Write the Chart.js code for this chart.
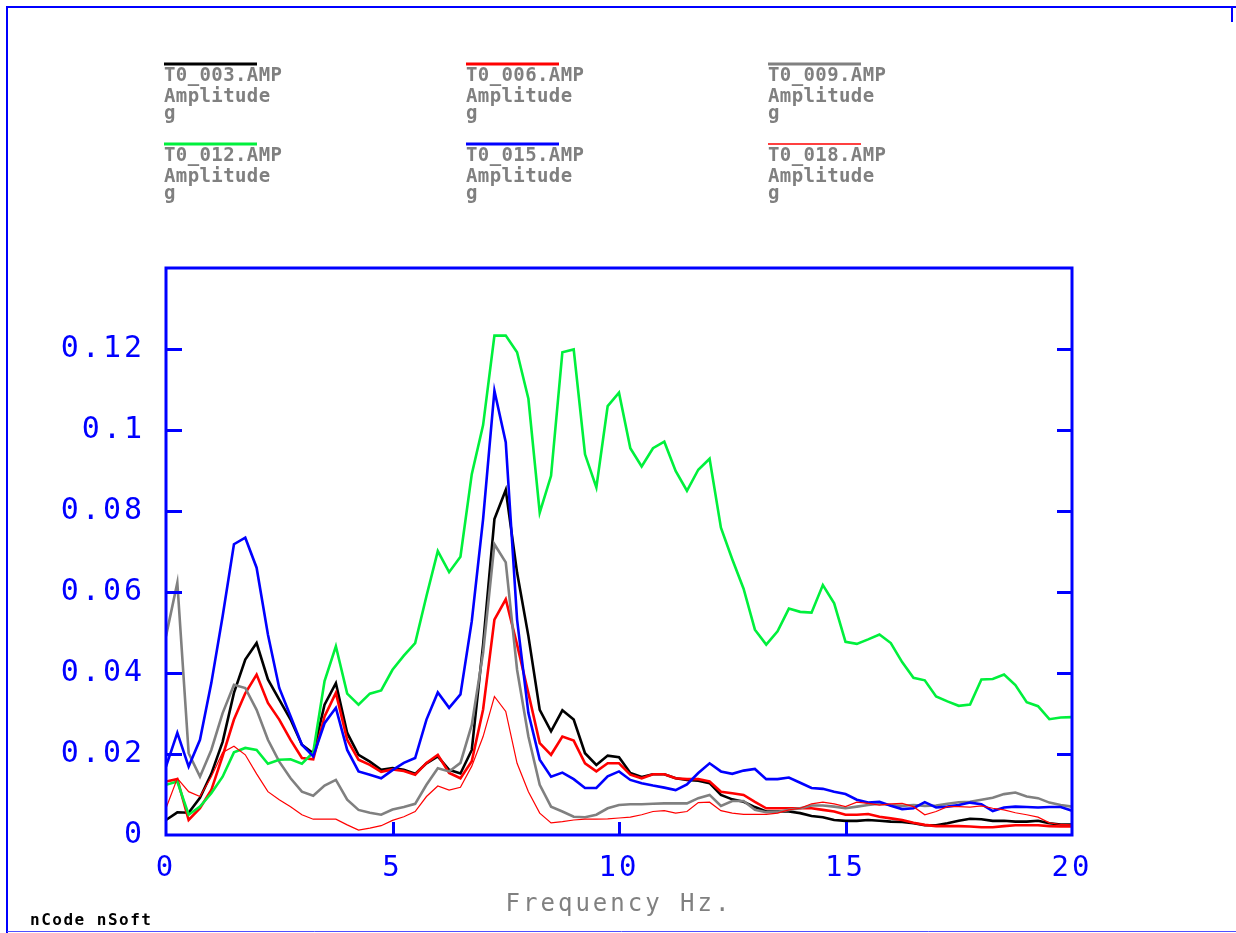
<!DOCTYPE html>
<html>
<head>
<meta charset="utf-8">
<script src="https://cdn.jsdelivr.net/npm/chart.js@4/dist/chart.umd.min.js"></script>
<style>
  html, body { margin: 0; padding: 0; background: #ffffff; }
  #wrap { width: 1236px; height: 933px; position: relative; }
  canvas { display: block; }
</style>
</head>
<body>
<div id="wrap"><canvas id="amp" width="1236" height="933"></canvas></div>
<script>
// Frequency axis (Hz), 0.25 Hz resolution
const freq = [
  0, 0.25, 0.5, 0.75, 1, 1.25, 1.5, 1.75, 2, 2.25, 2.5, 2.75, 3, 3.25, 3.5, 3.75,
  4, 4.25, 4.5, 4.75, 5, 5.25, 5.5, 5.75, 6, 6.25, 6.5, 6.75, 7, 7.25, 7.5, 7.75,
  8, 8.25, 8.5, 8.75, 9, 9.25, 9.5, 9.75, 10, 10.25, 10.5, 10.75, 11, 11.25, 11.5, 11.75,
  12, 12.25, 12.5, 12.75, 13, 13.25, 13.5, 13.75, 14, 14.25, 14.5, 14.75, 15, 15.25, 15.5, 15.75,
  16, 16.25, 16.5, 16.75, 17, 17.25, 17.5, 17.75, 18, 18.25, 18.5, 18.75, 19, 19.25, 19.5, 19.75, 20
];

// Amplitude spectra (g)
const amp003 = [
  0.0037, 0.0056, 0.0055, 0.0092, 0.0151, 0.0230, 0.0351, 0.0433, 0.0474, 0.0384, 0.0334, 0.0285, 0.0223, 0.0202, 0.0322, 0.0375,
  0.0252, 0.0198, 0.0181, 0.0161, 0.0165, 0.0161, 0.0151, 0.0177, 0.0194, 0.0161, 0.0152, 0.0210, 0.0470, 0.0780, 0.0852, 0.0648,
  0.0491, 0.0309, 0.0256, 0.0308, 0.0285, 0.0202, 0.0173, 0.0196, 0.0192, 0.0153, 0.0143, 0.0150, 0.0150, 0.0140, 0.0136, 0.0134,
  0.0128, 0.0099, 0.0088, 0.0082, 0.0069, 0.0058, 0.0058, 0.0058, 0.0054, 0.0047, 0.0044, 0.0037, 0.0035, 0.0035, 0.0037, 0.0035,
  0.0033, 0.0032, 0.0029, 0.0024, 0.0024, 0.0029, 0.0035, 0.0040, 0.0039, 0.0035, 0.0035, 0.0033, 0.0033, 0.0035, 0.0029, 0.0026, 0.0026
];
const amp006 = [
  0.0132, 0.0138, 0.0037, 0.0066, 0.0111, 0.0195, 0.0285, 0.0350, 0.0396, 0.0326, 0.0285, 0.0235, 0.0190, 0.0187, 0.0293, 0.0351,
  0.0235, 0.0186, 0.0173, 0.0156, 0.0162, 0.0158, 0.0149, 0.0178, 0.0198, 0.0153, 0.0140, 0.0182, 0.0310, 0.0532, 0.0582, 0.0470,
  0.0350, 0.0227, 0.0198, 0.0243, 0.0233, 0.0177, 0.0157, 0.0177, 0.0177, 0.0149, 0.0140, 0.0150, 0.0150, 0.0140, 0.0138, 0.0138,
  0.0132, 0.0107, 0.0103, 0.0099, 0.0082, 0.0066, 0.0066, 0.0066, 0.0066, 0.0066, 0.0062, 0.0058, 0.0050, 0.0050, 0.0052, 0.0045,
  0.0041, 0.0037, 0.0030, 0.0025, 0.0022, 0.0022, 0.0022, 0.0021, 0.0019, 0.0019, 0.0022, 0.0024, 0.0024, 0.0024, 0.0022, 0.0021, 0.0021
];
const amp009 = [
  0.0491, 0.0623, 0.0202, 0.0144, 0.0210, 0.0301, 0.0371, 0.0363, 0.0309, 0.0235, 0.0181, 0.0140, 0.0107, 0.0097, 0.0122, 0.0136,
  0.0087, 0.0062, 0.0055, 0.0050, 0.0063, 0.0069, 0.0077, 0.0124, 0.0165, 0.0157, 0.0178, 0.0272, 0.0450, 0.0718, 0.0673, 0.0408,
  0.0243, 0.0124, 0.0070, 0.0058, 0.0045, 0.0044, 0.0050, 0.0066, 0.0074, 0.0076, 0.0076, 0.0077, 0.0078, 0.0078, 0.0078, 0.0091,
  0.0099, 0.0072, 0.0084, 0.0084, 0.0062, 0.0056, 0.0057, 0.0062, 0.0066, 0.0073, 0.0073, 0.0070, 0.0066, 0.0070, 0.0074, 0.0077,
  0.0074, 0.0072, 0.0074, 0.0072, 0.0073, 0.0077, 0.0081, 0.0082, 0.0087, 0.0092, 0.0101, 0.0105, 0.0095, 0.0091, 0.0080, 0.0074, 0.0070
];
const amp012 = [
  0.0124, 0.0132, 0.0050, 0.0070, 0.0103, 0.0144, 0.0204, 0.0215, 0.0210, 0.0176, 0.0186, 0.0187, 0.0176, 0.0204, 0.0380, 0.0466,
  0.0349, 0.0322, 0.0349, 0.0357, 0.0408, 0.0443, 0.0474, 0.0590, 0.0701, 0.0649, 0.0687, 0.0891, 0.1012, 0.1233, 0.1233, 0.1192,
  0.1077, 0.0796, 0.0887, 0.1192, 0.1199, 0.0940, 0.0858, 0.1059, 0.1092, 0.0955, 0.0910, 0.0955, 0.0971, 0.0899, 0.0850, 0.0902,
  0.0929, 0.0759, 0.0681, 0.0608, 0.0507, 0.0470, 0.0503, 0.0559, 0.0551, 0.0549, 0.0617, 0.0572, 0.0477, 0.0472, 0.0483, 0.0495,
  0.0474, 0.0427, 0.0388, 0.0382, 0.0342, 0.0330, 0.0319, 0.0322, 0.0384, 0.0385, 0.0396, 0.0370, 0.0328, 0.0318, 0.0286, 0.0290, 0.0291
];
const amp015 = [
  0.0169, 0.0252, 0.0169, 0.0235, 0.0375, 0.0540, 0.0718, 0.0734, 0.0660, 0.0495, 0.0363, 0.0293, 0.0223, 0.0194, 0.0276, 0.0314,
  0.0210, 0.0157, 0.0149, 0.0140, 0.0160, 0.0178, 0.0190, 0.0285, 0.0352, 0.0314, 0.0347, 0.0528, 0.0780, 0.1097, 0.0970, 0.0532,
  0.0301, 0.0186, 0.0144, 0.0154, 0.0138, 0.0116, 0.0116, 0.0145, 0.0157, 0.0136, 0.0128, 0.0122, 0.0117, 0.0111, 0.0125, 0.0153,
  0.0177, 0.0157, 0.0151, 0.0159, 0.0163, 0.0138, 0.0138, 0.0142, 0.0129, 0.0116, 0.0114, 0.0107, 0.0101, 0.0087, 0.0080, 0.0082,
  0.0072, 0.0064, 0.0066, 0.0081, 0.0068, 0.0070, 0.0074, 0.0080, 0.0076, 0.0059, 0.0068, 0.0070, 0.0069, 0.0068, 0.0069, 0.0069, 0.0060
];
const amp018 = [
  0.0066, 0.0140, 0.0107, 0.0095, 0.0144, 0.0204, 0.0219, 0.0198, 0.0151, 0.0107, 0.0087, 0.0070, 0.0050, 0.0039, 0.0039, 0.0039,
  0.0025, 0.0012, 0.0017, 0.0023, 0.0036, 0.0045, 0.0058, 0.0095, 0.0121, 0.0111, 0.0118, 0.0170, 0.0243, 0.0342, 0.0305, 0.0177,
  0.0107, 0.0054, 0.0030, 0.0033, 0.0037, 0.0039, 0.0039, 0.0040, 0.0042, 0.0044, 0.0050, 0.0058, 0.0060, 0.0054, 0.0058, 0.0080,
  0.0081, 0.0060, 0.0054, 0.0051, 0.0051, 0.0051, 0.0054, 0.0062, 0.0066, 0.0077, 0.0081, 0.0077, 0.0070, 0.0081, 0.0078, 0.0074,
  0.0077, 0.0078, 0.0070, 0.0050, 0.0058, 0.0070, 0.0070, 0.0069, 0.0072, 0.0066, 0.0062, 0.0055, 0.0050, 0.0044, 0.0030, 0.0026, 0.0025
];

const channelNames = ['T0_003.AMP', 'T0_006.AMP', 'T0_009.AMP', 'T0_012.AMP', 'T0_015.AMP', 'T0_018.AMP'];
const quantityName = 'Amplitude';
const unitName = 'g';
const xTitle = 'Frequency Hz.';
const footerText = 'nCode nSoft';

const seriesValues = [amp003, amp006, amp009, amp012, amp015, amp018];
const seriesColors = ['#000000', '#ff0000', '#808080', '#00f03c', '#0000ff', '#ff0000'];
const seriesWidths = [2.6, 2.6, 2.6, 2.6, 2.6, 1.2];

const AXIS_BLUE = '#0000ff';
const MONO = '"DejaVu Sans Mono", "Liberation Mono", monospace';

const datasets = seriesValues.map((vals, i) => ({
  label: channelNames[i],
  data: freq.map((f, k) => ({ x: f, y: vals[k] })),
  borderColor: seriesColors[i],
  backgroundColor: seriesColors[i],
  borderWidth: seriesWidths[i],
  pointRadius: 0,
  tension: 0,
  fill: false,
  order: seriesValues.length - i   // later channels are painted over earlier ones
}));

// Frame, inward tick marks, legend block, page border and footer
const framePlugin = {
  id: 'framePlugin',
  beforeDraw(chart) {
    chart.ctx.letterSpacing = '3px';
  },
  afterDatasetsDraw(chart) {
    const { ctx, chartArea: a, scales } = chart;
    ctx.save();
    ctx.strokeStyle = AXIS_BLUE;
    ctx.lineWidth = 3;
    ctx.strokeRect(a.left, a.top, a.right - a.left, a.bottom - a.top);
    ctx.beginPath();
    scales.y.ticks.forEach(t => {
      if (t.value <= 0) return;
      const py = Math.round(scales.y.getPixelForValue(t.value)) + 0.5;
      ctx.moveTo(a.left, py); ctx.lineTo(a.left + 16, py);
      ctx.moveTo(a.right - 15, py); ctx.lineTo(a.right, py);
    });
    scales.x.ticks.forEach(t => {
      if (t.value <= scales.x.min || t.value >= scales.x.max) return;
      const px = Math.round(scales.x.getPixelForValue(t.value)) + 0.5;
      ctx.moveTo(px, a.bottom); ctx.lineTo(px, a.bottom - 13);
    });
    ctx.stroke();
    ctx.restore();
  },
  afterDraw(chart) {
    const ctx = chart.ctx;
    ctx.save();
    ctx.letterSpacing = '0px';

    // page border
    ctx.strokeStyle = AXIS_BLUE;
    ctx.lineWidth = 2;
    ctx.beginPath();
    ctx.moveTo(7, 933); ctx.lineTo(7, 7); ctx.lineTo(1236, 7);
    ctx.moveTo(1232, 7); ctx.lineTo(1232, 22);
    ctx.stroke();
    ctx.strokeStyle = '#5050ff';
    ctx.lineWidth = 1;
    ctx.beginPath();
    ctx.moveTo(7, 931.5); ctx.lineTo(1236, 931.5);
    ctx.stroke();

    // legend block: three columns, two rows
    chart.data.datasets.forEach((ds, i) => {
      const col = i % 3, row = Math.floor(i / 3);
      const x = 164 + col * 302;
      const y = 64 + row * 80;
      ctx.strokeStyle = ds.borderColor;
      ctx.lineWidth = ds.borderWidth >= 2 ? 3 : 1.4;
      ctx.beginPath();
      ctx.moveTo(x, y); ctx.lineTo(x + 93, y);
      ctx.stroke();
      ctx.fillStyle = '#808080';
      ctx.font = 'bold 19px ' + MONO;
      ctx.letterSpacing = '0.4px';
      ctx.textAlign = 'left';
      ctx.textBaseline = 'alphabetic';
      ctx.fillText(ds.label, x, y + 17);
      ctx.fillText(quantityName, x, y + 38);
      ctx.fillText(unitName, x, y + 55);
    });

    // footer
    ctx.fillStyle = '#000000';
    ctx.font = 'bold 16px ' + MONO;
    ctx.letterSpacing = '1.5px';
    ctx.fillText(footerText, 30, 925);
    ctx.restore();
  }
};

new Chart(document.getElementById('amp'), {
  type: 'line',
  data: { datasets },
  plugins: [framePlugin],
  options: {
    responsive: false,
    animation: false,
    devicePixelRatio: 1,
    layout: { padding: { top: 268, right: 164, left: 0, bottom: 0 } },
    plugins: { legend: { display: false }, tooltip: { enabled: false } },
    scales: {
      x: {
        type: 'linear',
        min: 0,
        max: 20,
        grid: { display: false },
        border: { display: false },
        ticks: {
          stepSize: 5,
          color: AXIS_BLUE,
          font: { family: MONO, size: 29 },
          padding: 8,
          maxRotation: 0
        },
        title: {
          display: true,
          text: xTitle,
          color: '#808080',
          font: { family: MONO, size: 24 },
          padding: { top: 0, bottom: 14 }
        },
        afterFit(scale) { scale.height = 98; }
      },
      y: {
        type: 'linear',
        min: 0,
        max: 0.14,
        grid: { display: false },
        border: { display: false },
        ticks: {
          stepSize: 0.02,
          color: AXIS_BLUE,
          font: { family: MONO, size: 30 },
          padding: 13,
          callback: v => String(parseFloat(v.toFixed(4)))
        },
        afterBuildTicks(scale) {
          scale.ticks = scale.ticks.filter(t => t.value < 0.13);
        },
        afterFit(scale) { scale.width = 166; }
      }
    }
  }
});
</script>
</body>
</html>
